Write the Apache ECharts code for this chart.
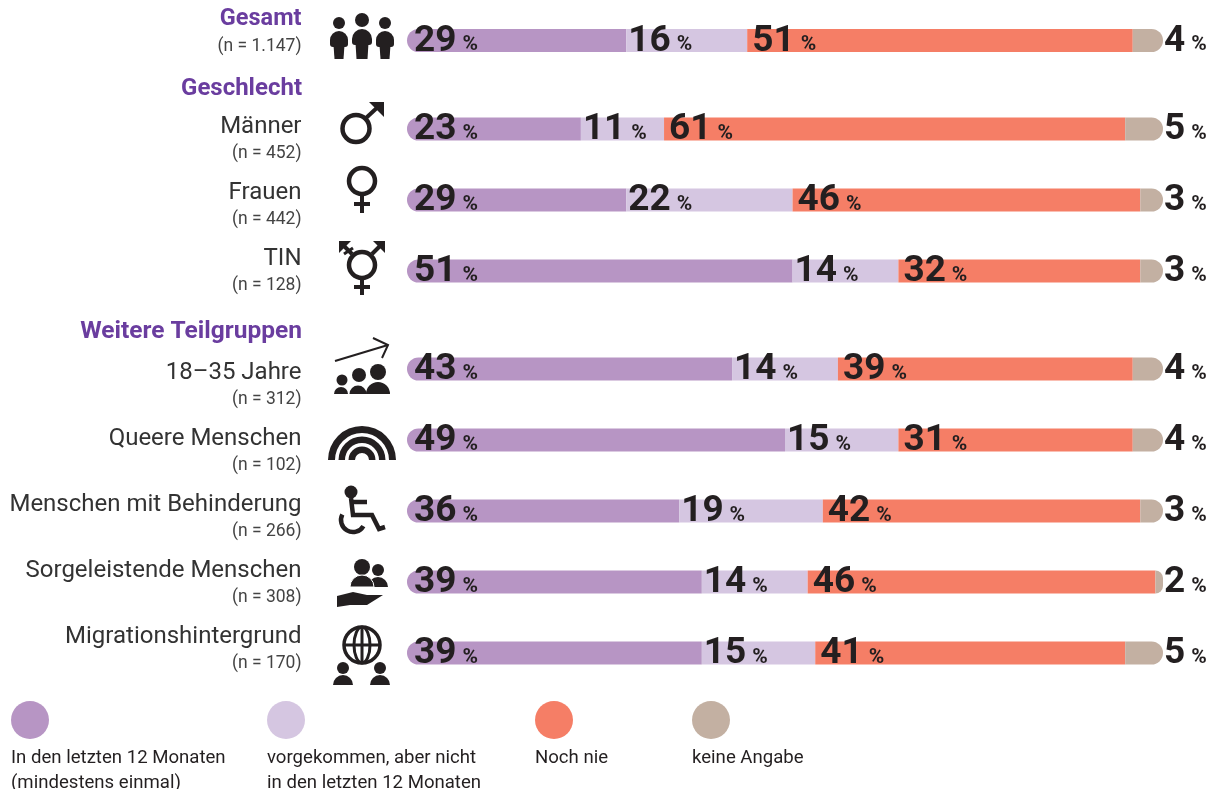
<!DOCTYPE html>
<html>
<head>
<meta charset="utf-8">
<style>
  html, body { margin: 0; background: #fff; }
  #chart { width: 1213px; height: 789px; }
</style>
<script src="https://cdn.jsdelivr.net/npm/echarts@6/dist/echarts.min.js"></script>
</head>
<body>
<div id="chart"></div>
<script>
const groups = ['Gesamt', 'Männer', 'Frauen', 'TIN', '18–35 Jahre', 'Queere Menschen', 'Menschen mit Behinderung', 'Sorgeleistende Menschen', 'Migrationshintergrund'];
const sampleSizes = ['1.147', '452', '442', '128', '312', '102', '266', '308', '170'];
const seriesNames = ['In den letzten 12 Monaten (mindestens einmal)', 'vorgekommen, aber nicht in den letzten 12 Monaten', 'Noch nie', 'keine Angabe'];

// printed percentages
const pctRecent = [29, 23, 29, 51, 43, 49, 36, 39, 39];
const pctEarlier = [16, 11, 22, 14, 14, 15, 19, 14, 15];
const pctNever = [51, 61, 46, 32, 39, 31, 42, 46, 41];
const pctNoAnswer = [4, 5, 3, 3, 4, 4, 3, 2, 5];

// bar lengths, the printed numbers are rounded so two rows differ a bit
const barRecent = [29, 23, 29, 51, 43, 50, 36, 39, 39];
const barEarlier = [16, 11, 22, 14, 14, 15, 19, 14, 15];
const barNever = [51, 61, 46, 32, 39, 31, 42, 46, 41];
const barNoAnswer = [4, 5, 3, 3, 4, 4, 3, 1, 5];

const printed = [pctRecent, pctEarlier, pctNever, pctNoAnswer];
const bars = [barRecent, barEarlier, barNever, barNoAnswer];
const colors = ['#b795c4', '#d5c6e1', '#f57e66', '#c3b0a2'];

const INK = '#231f20';
const PURPLE = '#6a3d9f';
const textFont = 'Roboto, sans-serif';

// blocks of rows: bars sit on a 71px raster, the text column on a 66px one
const blocks = [
  { from: 0, to: 1, barTop: 5, labelTop: 0 },
  { from: 1, to: 4, barTop: 93.5, labelTop: 107.5 },
  { from: 4, to: 9, barTop: 333.5, labelTop: 353 }
];

const grid = [], xAxis = [], yAxis = [], series = [];

blocks.forEach((b, i) => {
  const names = groups.slice(b.from, b.to);
  grid.push({ left: 407, width: 756, top: b.barTop, height: 71 * names.length });
  xAxis.push({ gridIndex: grid.length - 1, type: 'value', min: 0, max: 100, show: false });
  yAxis.push({ gridIndex: grid.length - 1, type: 'category', inverse: true, data: names, show: false });

  bars.forEach((values, s) => {
    const first = s === 0, last = s === 3;
    const dx = [7, 2, 5, 0][s];
    series.push({
      type: 'bar',
      name: seriesNames[s],
      stack: 'block' + i,
      xAxisIndex: i,
      yAxisIndex: i,
      barWidth: 23,
      silent: true,
      data: values.slice(b.from, b.to),
      itemStyle: {
        color: colors[s],
        borderRadius: first ? [11.5, 0, 0, 11.5] : last ? [0, 11.5, 11.5, 0] : 0
      },
      label: {
        show: true,
        position: last ? 'right' : 'insideLeft',
        distance: 0,
        offset: [last ? 1 : dx, 1],
        formatter: p => '{n|' + printed[s][b.from + p.dataIndex] + '}{p|%}',
        rich: {
          n: { fontFamily: textFont, fontWeight: 'bold', fontSize: 37, color: INK, lineHeight: 36 },
          p: { fontFamily: textFont, fontWeight: 'bold', fontSize: 21, color: INK, lineHeight: 24, padding: [7, 0, 0, 6] }
        }
      }
    });
  });
});

// text column, one narrow grid per block, axis has no series of its own
blocks.forEach(b => {
  const names = groups.slice(b.from, b.to);
  grid.push({ left: 301.5, width: 1, top: b.labelTop, height: 66 * names.length });
  xAxis.push({ gridIndex: grid.length - 1, type: 'value', min: 0, max: 1, show: false });
  yAxis.push({
    gridIndex: grid.length - 1,
    type: 'category',
    inverse: true,
    data: names,
    axisLine: { show: false },
    axisTick: { show: false },
    axisLabel: {
      interval: 0,
      margin: 0,
      formatter: (name, idx) => {
        const tag = b.from + idx === 0 ? 'head' : 'name';
        return '{' + tag + '|' + name + '}\n{n|(n = ' + sampleSizes[b.from + idx] + ')}';
      },
      rich: {
        head: { fontFamily: textFont, fontWeight: 'bold', fontSize: 23.5, color: PURPLE, lineHeight: 27, align: 'right' },
        name: { fontFamily: textFont, fontSize: 24, color: '#333', lineHeight: 27, align: 'right' },
        n: { fontFamily: textFont, fontSize: 17.5, color: '#444', lineHeight: 27, align: 'right' }
      }
    }
  });
});

// icon helpers
const ink = { fill: INK };
const line = (pts, w) => ({ type: 'polyline', shape: { points: pts }, style: { stroke: INK, lineWidth: w || 4, fill: null } });
const poly = pts => ({ type: 'polygon', shape: { points: pts }, style: ink });
const dot = (cx, cy, r) => ({ type: 'circle', shape: { cx, cy, r }, style: ink });
const hoop = (cx, cy, r, w) => ({ type: 'circle', shape: { cx, cy, r }, style: { stroke: INK, lineWidth: w || 4.5, fill: null } });
const dome = (cx, cy, r, r0) => ({ type: 'sector', shape: { cx, cy, r, r0: r0 || 0, startAngle: Math.PI, endAngle: Math.PI * 2 }, style: ink });
const figure = (cx, headY, headR, halfW, top, bottom) => [
  dot(cx, headY, headR),
  { type: 'rect', shape: { x: cx - halfW, y: top, width: halfW * 2, height: 16, r: [halfW, halfW, 3, 3] }, style: ink },
  poly([[cx - halfW + 3.5, top + 14], [cx + halfW - 3.5, top + 14], [cx + halfW - 4.5, bottom], [cx - halfW + 4.5, bottom]])
];

const icons = [
  // Gesamt
  ...figure(339, 23, 6, 9, 31, 59), ...figure(385, 23, 6, 9, 31, 59), ...figure(362, 20, 7, 10, 29, 59),
  // Männer
  hoop(356, 128.5, 13.5), line([[366, 118], [380, 105]]), poly([[369, 102], [384, 102], [384, 117]]),
  // Frauen
  hoop(362, 181, 13), line([[362, 194], [362, 213]]), line([[354, 204], [370, 204]]),
  // TIN
  hoop(362, 265, 13), line([[362, 278], [362, 295]]), line([[354, 287], [370, 287]]),
  line([[372, 254], [382, 244]]), poly([[373, 241], [385, 241], [385, 253]]),
  line([[352, 254], [342, 244]]), poly([[339, 241], [351, 241], [339, 253]]), line([[344, 254], [353, 248]], 3),
  // 18-35 Jahre
  line([[335, 361], [388, 345]], 2), line([[373, 338], [388, 345], [382, 358]], 2),
  dot(342, 380, 5.5), dome(341, 394, 7), dot(359, 375, 7), dome(358, 394, 8.5), dot(378, 372, 8), dome(378, 394, 12),
  // Queere Menschen
  dome(362, 460, 34, 27), dome(362, 460, 23.5, 17), dome(362, 460, 13.5, 7),
  // Menschen mit Behinderung
  dot(351, 492, 6.5), line([[351, 498], [353, 515], [372, 515], [379, 529], [385, 527]], 4.5), line([[353, 502], [367, 502]], 4.5),
  { type: 'arc', shape: { cx: 353, cy: 520, r: 12, startAngle: Math.PI / 6, endAngle: Math.PI * 1.15 }, style: { stroke: INK, lineWidth: 4.5, fill: null } },
  // Sorgeleistende Menschen
  dot(378, 570, 6), dome(378, 587, 10), dot(362, 567, 8),
  { type: 'sector', shape: { cx: 362, cy: 587, r: 12, startAngle: Math.PI, endAngle: Math.PI * 2 }, style: { fill: INK, stroke: '#fff', lineWidth: 1 } },
  poly([[337, 596], [353, 592], [367, 595], [383, 595], [367, 605], [350, 605], [337, 607]]),
  // Migrationshintergrund
  hoop(362, 645, 18, 3.5), { type: 'ellipse', shape: { cx: 362, cy: 645, rx: 8, ry: 18 }, style: { stroke: INK, lineWidth: 3, fill: null } },
  line([[344, 645], [380, 645]], 3), line([[362, 627], [362, 663]], 3),
  dot(343, 668, 6), dome(343, 685, 10), dot(380, 668, 6), dome(380, 685, 10)
];

const heading = (text, y, size) => ({
  type: 'text', style: { text, x: 302, y, align: 'right', verticalAlign: 'middle', fill: PURPLE, font: 'bold ' + size + 'px ' + textFont }
});

// legend sits icon over text so it is drawn by hand
const legendX = [11, 267, 535, 692];
const legendLines = [
  ['In den letzten 12 Monaten', '(mindestens einmal)'],
  ['vorgekommen, aber nicht', 'in den letzten 12 Monaten'],
  ['Noch nie'],
  ['keine Angabe']
];
const legendItems = [];
legendX.forEach((x, i) => {
  legendItems.push({ type: 'circle', shape: { cx: x + 19, cy: 720, r: 19 }, style: { fill: colors[i] } });
  legendItems.push({
    type: 'text',
    style: { text: legendLines[i].join('\n'), x, y: 746, lineHeight: 25, fill: INK, font: '18.6px ' + textFont }
  });
});

const chart = echarts.init(document.getElementById('chart'));
chart.setOption({
  animation: false,
  backgroundColor: '#fff',
  grid, xAxis, yAxis, series,
  graphic: { elements: [
    heading('Geschlecht', 89, 24),
    heading('Weitere Teilgruppen', 332, 24.5),
    ...icons,
    ...legendItems
  ] }
});
</script>
</body>
</html>
